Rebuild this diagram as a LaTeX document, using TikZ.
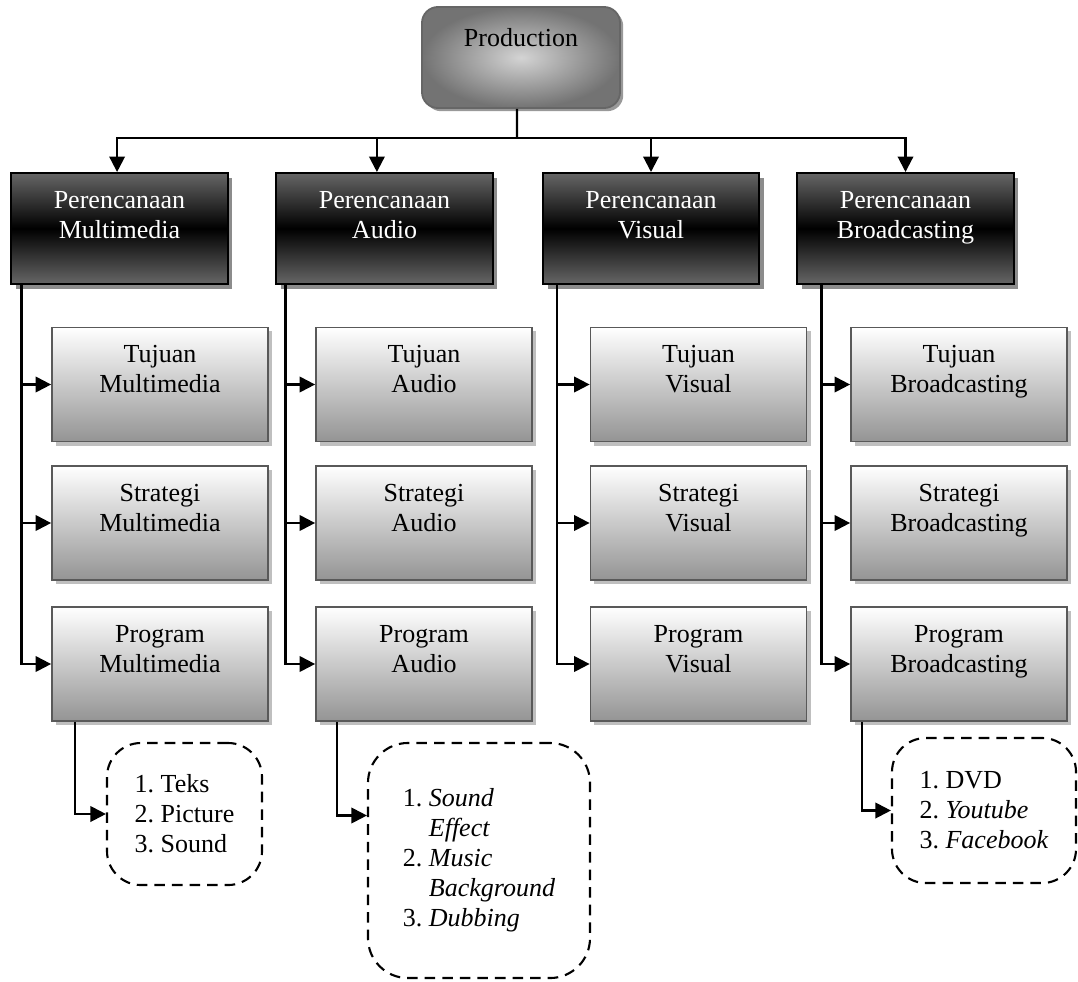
\documentclass[tikz,border=0pt]{standalone}
\usepackage{fontspec}
\setmainfont{Liberation Serif}
\usetikzlibrary{arrows.meta,shadows}
\frenchspacing

% text block with extra room below it (pushes the text up in its box)
\newcommand{\lifted}[2]{\begin{tabular}{@{}c@{}}#2\\[#1]\end{tabular}}

\tikzset{
  topbox/.style={draw=black!60, line width=1.3pt, rounded corners=0.4cm,
    shading=radial, inner color=black!17, outer color=black!55,
    minimum width=4.95cm, minimum height=2.525cm, inner sep=0pt,
    drop shadow={shadow xshift=0.08cm, shadow yshift=-0.08cm, fill=black!40, opacity=1}},
  planbox/.style={draw=black, line width=1.4pt, top color=black!60, bottom color=black!60,
    middle color=black, text=white, minimum width=5.4cm, minimum height=2.775cm,
    inner sep=0pt,
    drop shadow={shadow xshift=0.12cm, shadow yshift=-0.12cm, fill=black!45, opacity=1}},
  subbox/.style={draw=black!65, line width=1.2pt, top color=white, bottom color=black!42,
    minimum width=5.4cm, minimum height=2.85cm, inner sep=0pt,
    drop shadow={shadow xshift=0.1cm, shadow yshift=-0.1cm, fill=black!25, opacity=1}},
  listbox/.style={draw, line width=1.5pt, dash pattern=on 7.5pt off 5pt,
    rounded corners=0.85cm, align=left, inner sep=0pt},
  conn/.style={line width=1.5pt},
  arr/.style={conn, -{Triangle[length=11pt,width=11pt]}},
}

\begin{document}
\begin{tikzpicture}[x=0.025cm, y=-0.025cm, font=\fontsize{18.5pt}{21.3pt}\selectfont]
  \useasboundingbox (0,0) rectangle (1078,981);

  % top
  \node[topbox] (prod) at (521,57.5) {\lifted{0.83cm}{Production}};

  % perencanaan
  \node[planbox] (m1) at (119.5,228.5) {\lifted{0.53cm}{Perencanaan\\Multimedia}};
  \node[planbox] (m2) at (384.5,228.5) {\lifted{0.53cm}{Perencanaan\\Audio}};
  \node[planbox] (m3) at (651,228.5) {\lifted{0.53cm}{Perencanaan\\Visual}};
  \node[planbox] (m4) at (905.5,228.5) {\lifted{0.53cm}{Perencanaan\\Broadcasting}};

  % tujuan / strategi / program
  \node[subbox] (t1) at (160,384.5) {\lifted{0.63cm}{Tujuan\\Multimedia}};
  \node[subbox] (s1) at (160,523) {\lifted{0.63cm}{Strategi\\Multimedia}};
  \node[subbox] (p1) at (160,664) {\lifted{0.63cm}{Program\\Multimedia}};
  \node[subbox] (t2) at (424,384.5) {\lifted{0.63cm}{Tujuan\\Audio}};
  \node[subbox] (s2) at (424,523) {\lifted{0.63cm}{Strategi\\Audio}};
  \node[subbox] (p2) at (424,664) {\lifted{0.63cm}{Program\\Audio}};
  \node[subbox] (t3) at (698.5,384.5) {\lifted{0.63cm}{Tujuan\\Visual}};
  \node[subbox] (s3) at (698.5,523) {\lifted{0.63cm}{Strategi\\Visual}};
  \node[subbox] (p3) at (698.5,664) {\lifted{0.63cm}{Program\\Visual}};
  \node[subbox] (t4) at (959,384.5) {\lifted{0.63cm}{Tujuan\\Broadcasting}};
  \node[subbox] (s4) at (959,523) {\lifted{0.63cm}{Strategi\\Broadcasting}};
  \node[subbox] (p4) at (959,664) {\lifted{0.63cm}{Program\\Broadcasting}};

  % lists
  \node[listbox, minimum width=3.875cm, minimum height=3.55cm] (d1) at (184.5,814)
    {1. Teks\\2. Picture\\3. Sound};
  \node[listbox, rounded corners=1cm, minimum width=5.55cm, minimum height=5.875cm] (d2) at (479,860.5)
    {1. \textit{Sound}\\\phantom{1. }\textit{Effect}\\2. \textit{Music}\\
     \phantom{2. }\textit{Background}\\3. \textit{Dubbing}};
  \node[listbox, minimum width=4.6cm, minimum height=3.625cm] (d3) at (984,810.5)
    {1. DVD\\2. \textit{Youtube}\\3. \textit{Facebook}};

  % connectors
  \coordinate (bus) at (517,138);
  \draw[conn] ([xshift=-0.1cm]prod.south) -- (bus);
  \draw[arr] (bus) -| ([xshift=-0.06cm]m1.north);
  \draw[arr] (bus) -| ([xshift=-0.19cm]m2.north);
  \draw[arr] (bus) -| (m3.north);
  \draw[arr] (bus) -| (m4.north);

  \draw[arr] ([xshift=0.275cm]m1.south west) |- (t1.west);
  \draw[arr] ([xshift=0.275cm]m1.south west) |- (s1.west);
  \draw[arr] ([xshift=0.275cm]m1.south west) |- (p1.west);
  \draw[arr] ([xshift=0.25cm]m2.south west) |- (t2.west);
  \draw[arr] ([xshift=0.25cm]m2.south west) |- (s2.west);
  \draw[arr] ([xshift=0.25cm]m2.south west) |- (p2.west);
  \draw[arr] ([xshift=0.375cm]m3.south west) |- (t3.west);
  \draw[arr] ([xshift=0.375cm]m3.south west) |- (s3.west);
  \draw[arr] ([xshift=0.375cm]m3.south west) |- (p3.west);
  \draw[arr] ([xshift=0.625cm]m4.south west) |- (t4.west);
  \draw[arr] ([xshift=0.625cm]m4.south west) |- (s4.west);
  \draw[arr] ([xshift=0.625cm]m4.south west) |- (p4.west);

  \draw[arr] ([xshift=0.6cm]p1.south west) |- (d1.west);
  \draw[arr] ([xshift=0.55cm]p2.south west) |- ([yshift=1.125cm]d2.west);
  \draw[arr] ([xshift=0.3cm]p4.south west) |- (d3.west);
\end{tikzpicture}
\end{document}
